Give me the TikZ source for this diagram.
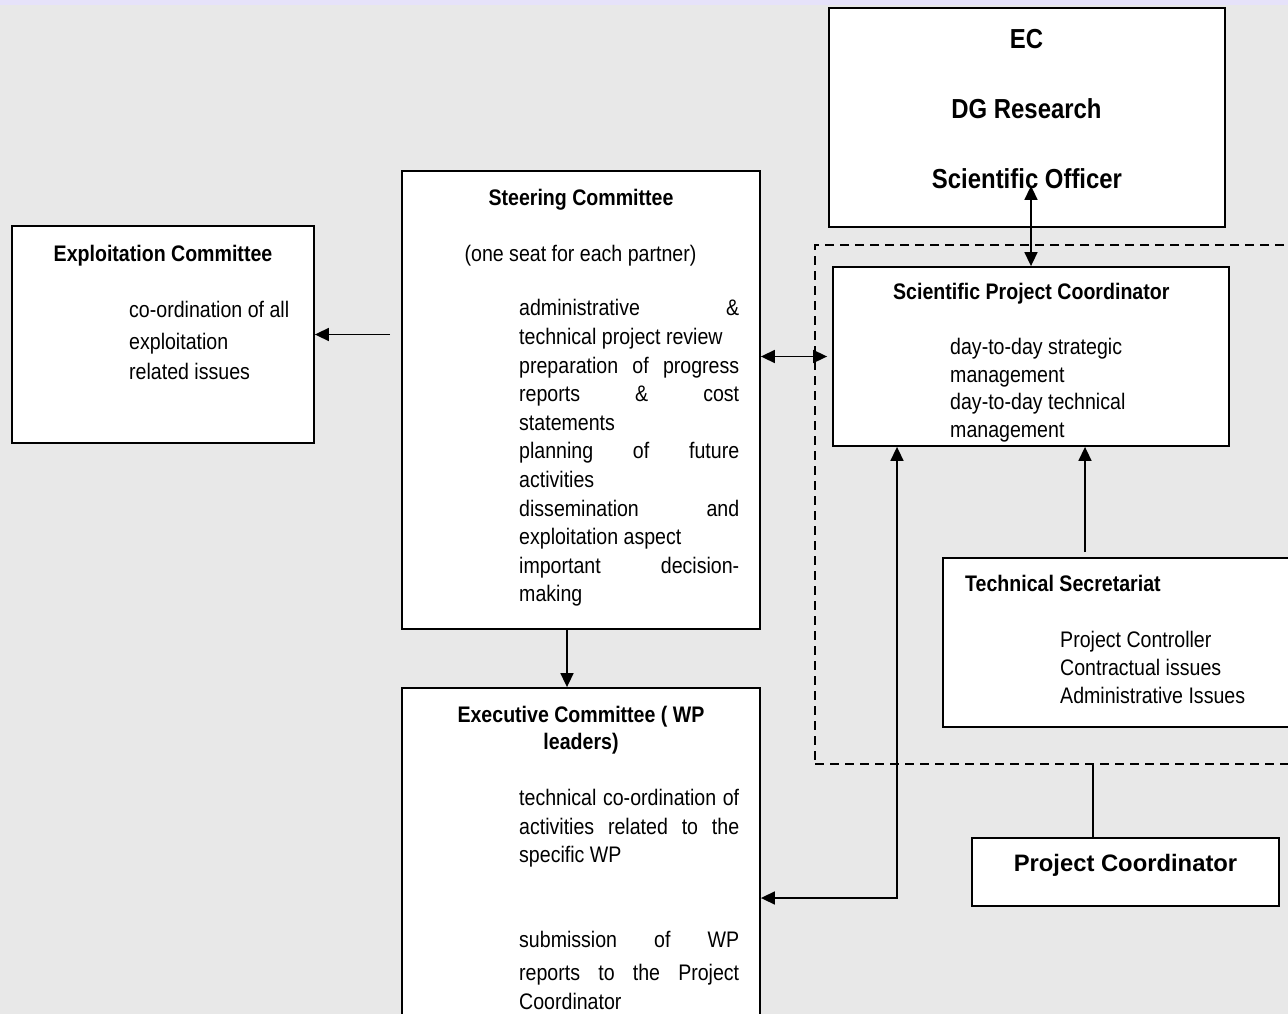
\documentclass[tikz,border=0pt]{standalone}
\usepackage{fontspec}
\setmainfont{Liberation Sans}
\newfontfamily\narrowsf{Liberation Sans}[FakeStretch=0.87]
\usetikzlibrary{arrows.meta}

\definecolor{pagegray}{RGB}{232,232,232}
\definecolor{topband}{RGB}{230,226,250}

\newcommand\jline[1]{\makebox[220pt][s]{#1}}

\tikzset{
  box/.style={draw, fill=white, line width=1.8pt, inner sep=0pt},
  frame/.style={draw, dash pattern=on 9pt off 6pt, line width=1.4pt},
  link/.style={line width=1.6pt},
  title/.style={font=\narrowsf\bfseries\fontsize{22.5}{27.6}\selectfont, inner sep=0pt, anchor=base},
  bigtitle/.style={font=\narrowsf\bfseries\fontsize{27.5}{33}\selectfont, inner sep=0pt, anchor=base},
  body/.style={font=\narrowsf\fontsize{22.5}{28.6}\selectfont, inner sep=0pt, anchor=north west, align=left},
}

\begin{document}
\begin{tikzpicture}[x=1pt, y=-1pt, >={Triangle[length=14pt,width=13pt]}]
        \useasboundingbox (0,0) rectangle (1288,1014);
        \clip (0,0) rectangle (1288,1014);
        \fill[pagegray] (0,0) rectangle (1288,1014);
        \fill[topband]  (0,0) rectangle (1288,5);

        \node[frame, minimum width=485pt, minimum height=519pt] (team) at (1057.5, 504.5) {};

        \node[box, minimum width=302pt, minimum height=217pt] (expl)  at ( 163.0, 334.5) {};
        \node[box, minimum width=358pt, minimum height=458pt] (steer) at ( 581.0, 400.0) {};
        \node[box, minimum width=396pt, minimum height=219pt] (ec)    at (1027.0, 117.5) {};
        \node[box, minimum width=396pt, minimum height=179pt] (spc)   at (1031.0, 356.5) {};
        \node[box, minimum width=346pt, minimum height=169pt] (tsec)  at (1116.0, 642.5) {};
        \node[box, minimum width=307pt, minimum height= 68pt] (pc)    at (1125.5, 872.0) {};
        \node[box, minimum width=358pt, minimum height=342pt] (exec)  at ( 581.0, 859.0) {};

        \node[title] (expltitle) at ( 163.0, 261.7) {Exploitation Committee};
        \node[body, font=\narrowsf\fontsize{22.5}{30}\selectfont] (expltext) at (129, 300.6)
          {co-ordination of all\\[2.6pt]exploitation\\related issues};

        \node[title] (steertitle) at (581.0, 205.0) {Steering Committee};
        \node[title, font=\narrowsf\fontsize{22.5}{27.6}\selectfont] (steerseat) at (580.5, 261.5)
          {(one seat for each partner)};
        \node[body] (steertext) at (519, 299.4)
          {\jline{administrative \&}\\technical project review\\
           \jline{preparation of progress}\\\jline{reports \& cost}\\statements\\
           \jline{planning of future}\\activities\\\jline{dissemination and}\\
           exploitation aspect\\\jline{important decision-}\\making};

        \node[bigtitle] (ecname)  at (1026.5,  48.3) {EC};
        \node[bigtitle] (ecdg)    at (1026.5, 118.3) {DG Research};
        \node[bigtitle] (ecofficer) at (1027.0, 188.3) {Scientific Officer};

        \node[title] (spctitle) at (1031.3, 299.7) {Scientific Project Coordinator};
        \node[body, font=\narrowsf\fontsize{22.5}{27.6}\selectfont] (spctext) at (950, 338.2)
          {day-to-day strategic\\management\\day-to-day technical\\management};

        \node[title, anchor=base west] (tstitle) at (965, 591.7) {Technical Secretariat};
        \node[body, font=\narrowsf\fontsize{22.5}{28.3}\selectfont] (tstext) at (1060, 630.6)
          {Project Controller\\Contractual issues\\Administrative Issues};

        \node[title, font=\bfseries\fontsize{23.8}{28}\selectfont] (pctitle) at (1125.5, 871.7)
          {Project Coordinator};

        \node[title, anchor=north, align=center] (exectitle) at (581.0, 705.6)
          {Executive Committee ( WP\\leaders)};
        \node[body] (exectext) at (519, 788.9)
          {\jline{technical co-ordination of}\\\jline{activities related to the}\\specific WP\\[55.9pt]
           \jline{submission of WP}\\[4.7pt]\jline{reports to the Project}\\Coordinator};

        \coordinate (bend)  at ( 897, 898);
        \coordinate (tsout) at (1085, 552);

        \draw[link, ->]  ([xshift=-11pt]steer.west |- expl.east) -- (expl.east);
        \draw[link, <->] (steer.east |- spc.west) -- ([xshift=-5pt]spc.west);
        \draw[link, <->] ([yshift=42pt]ec.south -| spc.north) -- (spc.north);
        \draw[link, ->]  ([xshift=-14pt]steer.south) -- ([xshift=-14pt]exec.north);
        \draw[link, <->] (exec.east |- bend) -- (bend) -- (bend |- spc.south);
        \draw[link, ->]  (tsout) -- (tsout |- spc.south);
        \draw[link]      ([xshift=-32.5pt]pc.north) -- ([xshift=-32.5pt]pc.north |- team.south);
      \end{tikzpicture}
\end{document}
